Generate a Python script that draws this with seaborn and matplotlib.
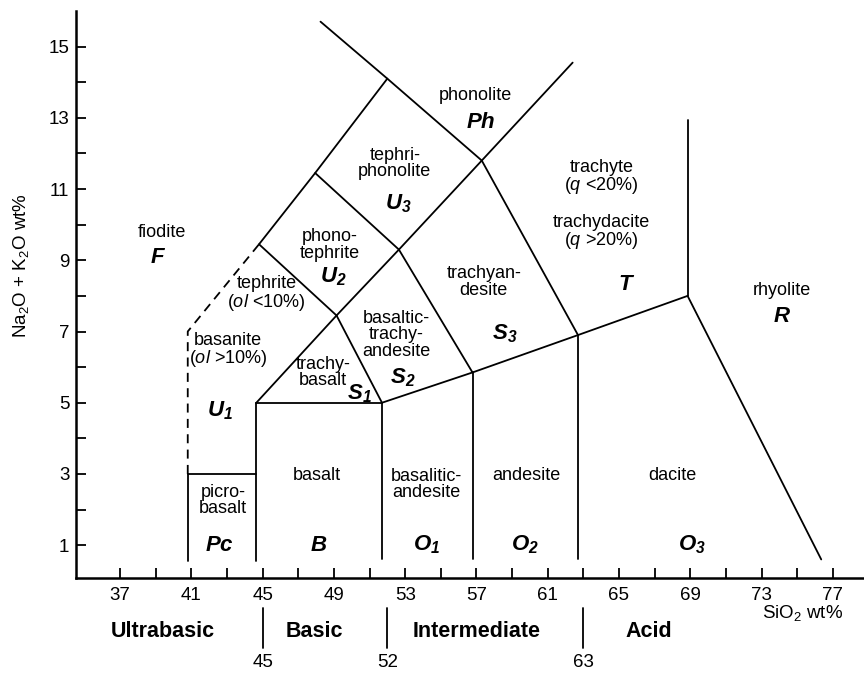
import matplotlib
matplotlib.use('Agg')
import numpy as np
import pandas as pd
import seaborn as sns
from matplotlib import pyplot as plt

# field boundaries (SiO2 wt%, Na2O+K2O wt%)
solid_sio2 = [
    [40.8, 40.8], [40.8, 44.65], [44.65, 44.65], [44.65, 51.7],
    [44.65, 49.15, 52.65, 57.3, 62.4],
    [44.8, 47.95, 52.0],
    [48.25, 52.0, 57.3],
    [44.8, 49.15], [47.95, 52.65],
    [49.15, 51.7], [52.65, 56.78], [57.3, 62.7],
    [51.7, 56.78, 62.7, 68.85],
    [51.7, 51.7], [56.78, 56.78], [62.7, 62.7],
    [68.85, 68.85], [68.85, 76.35],
]
solid_alk = [
    [0.55, 3.0], [3.0, 3.0], [0.55, 5.0], [5.0, 5.0],
    [5.0, 7.45, 9.3, 11.8, 14.55],
    [9.45, 11.45, 14.1],
    [15.7, 14.1, 11.8],
    [9.45, 7.45], [11.45, 9.3],
    [7.45, 5.0], [9.3, 5.85], [11.8, 6.9],
    [5.0, 5.85, 6.9, 8.0],
    [0.6, 5.0], [0.6, 5.85], [0.6, 6.9],
    [8.0, 12.95], [8.0, 0.6],
]
dashed_sio2 = [40.8, 40.8, 44.8]
dashed_alk = [3.0, 7.0, 9.45]

# rock names
field_names = ['fiodite', 'tephrite\n($\\mathit{ol}$ <10%)', 'basanite\n($\\mathit{ol}$ >10%)',
               'picro-\nbasalt', 'basalt', 'basalitic-\nandesite', 'andesite', 'dacite',
               'trachy-\nbasalt', 'basaltic-\ntrachy-\nandesite', 'trachyan-\ndesite',
               'trachyte\n($\\mathit{q}$ <20%)', 'trachydacite\n($\\mathit{q}$ >20%)',
               'rhyolite', 'phono-\ntephrite', 'tephri-\nphonolite', 'phonolite']
field_x = [39.36, 45.22, 43.07, 42.79, 48.03, 54.2, 59.81, 67.99, 48.4, 52.52, 57.41,
           64.03, 64.03, 74.12, 48.77, 52.42, 56.96]
field_y = [9.79, 8.05, 6.46, 2.25, 2.96, 2.7, 2.96, 2.96, 5.84, 6.91, 8.39,
           11.33, 9.79, 8.15, 9.43, 11.72, 13.63]

# field symbols
symbols = ['F', 'U_1', 'U_2', 'U_3', 'Pc', 'B', 'O_1', 'O_2', 'O_3', 'S_1', 'S_2', 'S_3',
           'T', 'R', 'Ph']
symbol_x = [39.14, 42.6, 48.96, 52.6, 42.6, 48.17, 54.2, 59.71, 69.12, 50.46, 52.89, 58.59,
            65.41, 74.12, 57.24]
symbol_y = [9.07, 4.79, 8.53, 10.6, 1.0, 1.0, 1.0, 1.0, 1.0, 5.26, 5.7, 6.95,
            8.32, 7.42, 12.87]

# silica classes under the axis
class_names = ['Ultrabasic', 'Basic', 'Intermediate', 'Acid']
class_x = [39.38, 47.92, 57.0, 66.65]
class_bounds = [45, 52, 63]

x_major = list(range(37, 78, 4))
x_minor = list(range(39, 77, 4))
y_major = list(range(1, 16, 2))
y_minor = list(range(2, 15, 2))

sns.set_style('ticks')
plt.rcParams['font.family'] = ['Liberation Sans', 'DejaVu Sans']
plt.rcParams['text.color'] = 'black'
plt.rcParams['axes.labelcolor'] = 'black'
plt.rcParams['mathtext.fontset'] = 'custom'
plt.rcParams['mathtext.rm'] = 'Liberation Sans'
plt.rcParams['mathtext.it'] = 'Liberation Sans:italic'
plt.rcParams['mathtext.bf'] = 'Liberation Sans:italic:bold'

fig = plt.figure(figsize=(8.64, 6.73), dpi=100)
ax = fig.add_axes([0.0884, 0.1407, 0.9116, 0.843])

segs = pd.DataFrame({
    'seg': np.concatenate([[i] * len(s) for i, s in enumerate(solid_sio2)]),
    'sio2': np.concatenate(solid_sio2),
    'alk': np.concatenate(solid_alk),
})
sns.lineplot(data=segs, x='sio2', y='alk', units='seg', estimator=None, sort=False,
             color='black', lw=1.3, ax=ax)
sns.lineplot(x=dashed_sio2, y=dashed_alk, estimator=None, sort=False, color='black',
             lw=1.3, linestyle=(0, (5, 3.5)), ax=ax)

for name, x, y in zip(field_names, field_x, field_y):
    ax.text(x, y, name, ha='center', va='center', fontsize=13, linespacing=0.95,
            color='black')

for s, x, y in zip(symbols, symbol_x, symbol_y):
    if '_' in s:
        lab = '$\\mathbf{%s}_\\mathbf{%s}$' % tuple(s.split('_'))
    else:
        lab = '$\\mathbf{%s}$' % s
    ax.text(x, y, lab, ha='center', va='center', fontsize=16, color='black')

ax.set_xlim(34.55, 78.75)
ax.set_ylim(0.07, 16)
ax.set_xticks(x_major)
ax.set_xticks(x_minor, minor=True)
ax.set_yticks(y_major)
ax.set_yticks(y_minor, minor=True)
ax.tick_params(which='both', direction='in', length=7, width=1.3, labelsize=13.5,
               color='black', labelcolor='black')
ax.tick_params(axis='x', pad=6)
ax.tick_params(axis='y', pad=5)
sns.despine(ax=ax)
for sp in ['left', 'bottom']:
    ax.spines[sp].set_linewidth(1.8)
    ax.spines[sp].set_color('black')

ax.set_xlabel('')
ax.set_ylabel('Na$_2$O + K$_2$O wt%', fontsize=13.5, va='center', color='black')
ax.yaxis.set_label_coords(-0.07, 0.552)

tr = ax.get_xaxis_transform()
ax.text(75.29, -0.061, 'SiO$_2$ wt%', transform=tr, ha='center', va='center',
        fontsize=13.5, color='black')
for name, x in zip(class_names, class_x):
    ax.text(x, -0.094, name, transform=tr, ha='center', va='center', fontsize=15.5,
            fontweight='bold', color='black')
for b in class_bounds:
    ax.plot([b, b], [-0.052, -0.123], transform=tr, color='black', lw=1.3, clip_on=False)
    ax.text(b, -0.149, str(b), transform=tr, ha='center', va='center', fontsize=13.5,
            color='black')

fig.savefig('out.png', dpi=100)
